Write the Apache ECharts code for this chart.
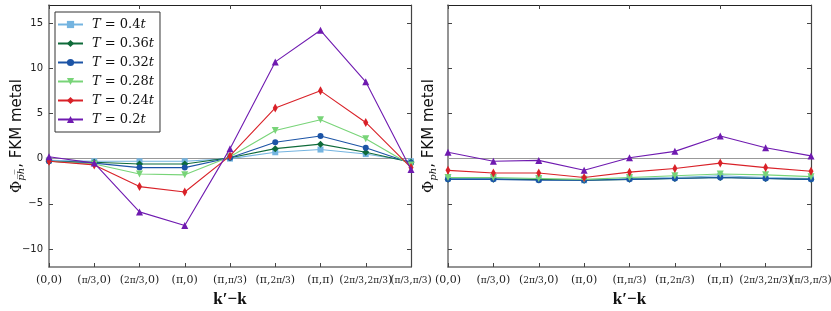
<!DOCTYPE html>
<html><head><meta charset="utf-8">
<script src="https://cdn.jsdelivr.net/npm/echarts@6/dist/echarts.min.js"></script>
<style>html,body{margin:0;padding:0;background:#fff}#c{width:831px;height:311px}</style>
</head><body><div id="c"></div>
<script>
const categories = ['(0,0)','(π/3,0)','(2π/3,0)','(π,0)','(π,π/3)','(π,2π/3)','(π,π)','(2π/3,2π/3)','(π/3,π/3)'];
const seriesNames = ['T=0.4t','T=0.36t','T=0.32t','T=0.28t','T=0.24t','T=0.2t'];
const yTicks = [-10,-5,0,5,10,15];
// left panel: Phi_{ph-bar}
const leftT04  = [-0.2,-0.3,-0.3,-0.3,0.0,0.7,1.0,0.5,-0.3];
const leftT036 = [-0.3,-0.4,-0.6,-0.6,0.1,1.1,1.6,0.7,-0.4];
const leftT032 = [-0.3,-0.5,-1.0,-1.0,0.1,1.8,2.5,1.2,-0.5];
const leftT028 = [-0.3,-0.6,-1.7,-1.8,0.2,3.1,4.3,2.2,-0.7];
const leftT024 = [-0.3,-0.7,-3.1,-3.7,0.3,5.6,7.5,4.0,-1.0];
const leftT02  = [0.2,-0.5,-5.9,-7.4,1.1,10.7,14.2,8.5,-1.2];
// right panel: Phi_ph
const rightT04  = [-2.2,-2.2,-2.3,-2.4,-2.2,-2.1,-1.9,-2.1,-2.2];
const rightT036 = [-2.3,-2.3,-2.3,-2.4,-2.3,-2.2,-2.1,-2.2,-2.3];
const rightT032 = [-2.3,-2.3,-2.4,-2.4,-2.3,-2.2,-2.1,-2.2,-2.3];
const rightT028 = [-2.1,-2.1,-2.2,-2.3,-2.1,-1.9,-1.7,-1.8,-2.0];
const rightT024 = [-1.3,-1.6,-1.6,-2.1,-1.5,-1.1,-0.5,-1.0,-1.4];
const rightT02  = [0.7,-0.3,-0.2,-1.3,0.1,0.8,2.5,1.2,0.3];

const leftData = [leftT04,leftT036,leftT032,leftT028,leftT024,leftT02];
const rightData = [rightT04,rightT036,rightT032,rightT028,rightT024,rightT02];
const colors = ['#74b4e0','#0f6b3a','#1c54a6','#78d478','#d92128','#6f1ab0'];
const symbols = ['rect','diamond','circle','triangle','diamond','triangle'];
const symSizes = [6,7,6,7,[5,9],7];
const symRot = [0,0,0,180,0,0];

const labelRich = {f:{fontSize:9,fontFamily:'DejaVu Serif',color:'#222'}, p:{fontSize:11,fontFamily:'DejaVu Serif',color:'#222'}};
function catLabel(v){
  let inner = v.slice(1,-1).split(',');
  let parts = inner.map(s => s.includes('/') ? '{f|'+s+'}' : '{p|'+s+'}');
  return '{p|(}' + parts.join('{p|,}') + '{p|)}';
}
const axisCol = '#707070';
function xAxes(gi){
  return [{
    type:'category', gridIndex:gi, data:categories, boundaryGap:false,
    axisLine:{onZero:false,lineStyle:{color:axisCol,width:1.5}},
    axisTick:{inside:true,length:4,lineStyle:{color:'#444'}},
    axisLabel:{interval:0,margin:8,formatter:catLabel,rich:labelRich,color:'#222'},
    name:'k′−k', nameLocation:'middle', nameGap:22,
    nameTextStyle:{fontFamily:'Liberation Serif',fontWeight:'bold',fontSize:17,color:'#111'}
  },{
    type:'category', gridIndex:gi, data:categories, boundaryGap:false, position:'top',
    axisLine:{onZero:false,lineStyle:{color:'#222',width:1}},
    axisTick:{inside:true,length:4,lineStyle:{color:'#444'}},
    axisLabel:{show:false}
  }];
}
function yAxes(gi, name, showLabels, gap){
  return [{
    type:'value', gridIndex:gi, min:-12, max:17,
    axisLine:{show:true,onZero:false,lineStyle:{color:axisCol,width:1.5}},
    axisTick:{show:true,inside:true,length:4,customValues:yTicks,lineStyle:{color:'#444'}},
    axisLabel:{show:showLabels,customValues:yTicks,margin:6,fontFamily:'DejaVu Sans',fontSize:10,color:'#222',
      formatter:v=>String(v).replace('-','−')},
    splitLine:{show:false},
    name:name, nameLocation:'middle', nameRotate:90, nameGap:gap, nameMoveOverlap:false,
    nameTextStyle:{rich:{
      phi:{fontFamily:'DejaVu Serif',fontSize:15,color:'#111'},
      sub:{fontFamily:'DejaVu Serif',fontStyle:'italic',fontSize:10,color:'#111',padding:[8,0,0,0]},
      n:{fontFamily:'DejaVu Sans',fontSize:15,color:'#111'}
    }}
  },{
    type:'value', gridIndex:gi, min:-12, max:17, position:'right',
    axisLine:{show:true,onZero:false,lineStyle:{color:'#444',width:1.2}},
    axisTick:{show:true,inside:true,length:4,customValues:yTicks,lineStyle:{color:'#444'}},
    axisLabel:{show:false}, splitLine:{show:false}
  }];
}
const series = [];
[leftData,rightData].forEach((dat,gi)=>{
  dat.forEach((d,i)=>{
    const s = {
      name:seriesNames[i], type:'line', xAxisIndex:gi*2, yAxisIndex:gi*2, data:d,
      symbol:symbols[i], symbolSize:symSizes[i], symbolRotate:symRot[i],
      lineStyle:{width:1.1,color:colors[i]}, itemStyle:{color:colors[i]},
      z:10+i, animation:false
    };
    if(i===0){
      s.markLine = {silent:true,symbol:'none',label:{show:false},lineStyle:{color:'#999',type:'solid',width:1.2},data:[{yAxis:0}],z:1,animation:false};
    }
    series.push(s);
  });
});

const chart = echarts.init(document.getElementById('c'),null,{renderer:'canvas'});
chart.setOption({
  backgroundColor:'#fff',
  animation:false,
  grid:[{left:49,right:420,top:5,bottom:44,outerBoundsMode:'none',containLabel:false},
        {left:448,right:20,top:5,bottom:44,outerBoundsMode:'none',containLabel:false}],
  xAxis:[...xAxes(0),...xAxes(1)],
  yAxis:[...yAxes(0,'{phi|Φ}{sub|p̅h̅}{n|, FKM metal}',true,23),...yAxes(1,'{phi|Φ}{sub|ph}{n|, FKM metal}',false,10)],
  legend:{
    orient:'vertical', left:55, top:12, itemWidth:25, itemHeight:9, itemGap:6,
    padding:[6,6,6,2], borderColor:'#333', borderWidth:1, backgroundColor:'#fff',
    data:seriesNames,
    formatter:n=>{const m=n.match(/T=(.*)t/);return '{i|T}{r| = '+m[1]+'}{i|t}';},
    textStyle:{padding:[0,0,0,4],rich:{
      i:{fontFamily:'DejaVu Serif',fontStyle:'italic',fontSize:13,lineHeight:15,color:'#111'},
      r:{fontFamily:'DejaVu Serif',fontSize:13,lineHeight:15,color:'#111'}
    }}
  },
  series:series
});
</script></body></html>
